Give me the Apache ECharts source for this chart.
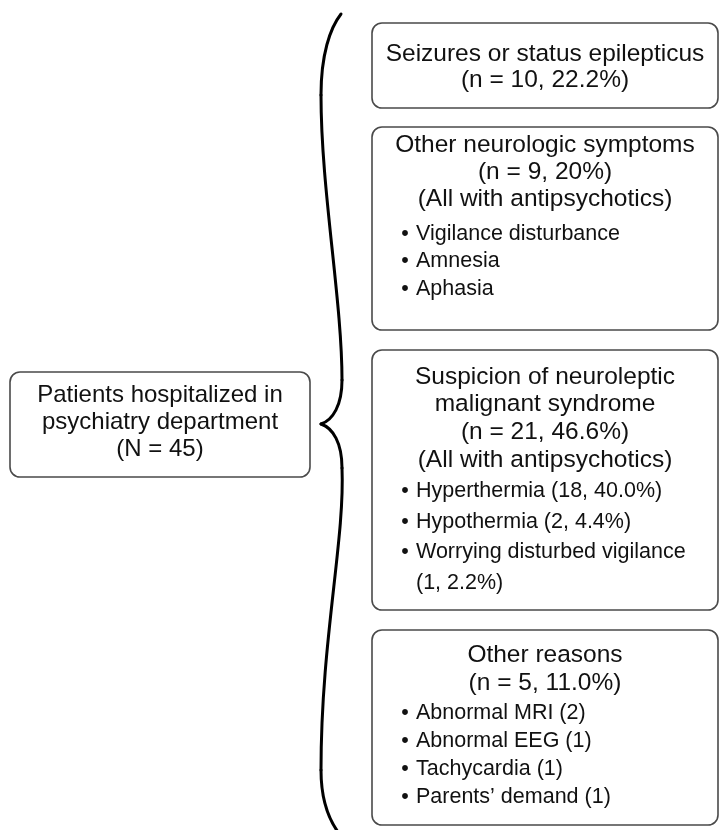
<!DOCTYPE html>
<html>
<head>
<meta charset="utf-8">
<script src="https://cdn.jsdelivr.net/npm/echarts@6/dist/echarts.min.js"></script>
<style>
  html, body { margin: 0; padding: 0; background: #fff; }
  #main { width: 719px; height: 830px; }
</style>
</head>
<body>
<div id="main"></div>
<script>
// text of the diagram
var rootLines = ['Patients hospitalized in', 'psychiatry department', '(N = 45)'];

var groupTitles = [
    ['Seizures or status epilepticus', '(n = 10, 22.2%)'],
    ['Other neurologic symptoms', '(n = 9, 20%)', '(All with antipsychotics)'],
    ['Suspicion of neuroleptic', 'malignant syndrome', '(n = 21, 46.6%)', '(All with antipsychotics)'],
    ['Other reasons', '(n = 5, 11.0%)']
];

// each item may wrap onto a second line
var groupItems = [
    [],
    [['Vigilance disturbance'], ['Amnesia'], ['Aphasia']],
    [['Hyperthermia (18, 40.0%)'], ['Hypothermia (2, 4.4%)'], ['Worrying disturbed vigilance', '(1, 2.2%)']],
    [['Abnormal MRI (2)'], ['Abnormal EEG (1)'], ['Tachycardia (1)'], ['Parents\u2019 demand (1)']]
];

// layout
var FONT = '"Liberation Sans", Arial, Helvetica, sans-serif';
var ROOT_FS = 24, TITLE_FS = 24.5, ITEM_FS = 21.5;
var rootBox = { x: 10, y: 372, w: 300, h: 105, firstY: 395, step: 27 };
var boxX = 372, boxW = 346;
var boxes = [
    { top: 23,  bottom: 108, titleY: 54,  titleStep: 26,   itemY: 0,   itemStep: 0 },
    { top: 127, bottom: 330, titleY: 145, titleStep: 27,   itemY: 234, itemStep: 27.5 },
    { top: 350, bottom: 610, titleY: 377, titleStep: 27.7, itemY: 491, itemStep: 30.7 },
    { top: 630, bottom: 825, titleY: 655, titleStep: 28,   itemY: 713, itemStep: 28 }
];

function txt(s, x, y, align, fs) {
    return {
        type: 'text', x: x, y: y, silent: true,
        style: {
            text: s, fill: '#111', fontSize: fs, fontFamily: FONT,
            align: align, verticalAlign: 'middle'
        }
    };
}
function box(x, y, w, h) {
    return {
        type: 'rect', silent: true,
        shape: { x: x, y: y, width: w, height: h, r: 10 },
        style: { fill: '#fff', stroke: '#4a4a4a', lineWidth: 1.6 }
    };
}
function curve(p) {
    return {
        type: 'bezierCurve', silent: true,
        shape: { x1: p[0], y1: p[1], cpx1: p[2], cpy1: p[3], cpx2: p[4], cpy2: p[5], x2: p[6], y2: p[7] },
        style: { stroke: '#000', lineWidth: 3, fill: null, lineCap: 'round' }
    };
}

var elements = [];

// left box
elements.push(box(rootBox.x, rootBox.y, rootBox.w, rootBox.h));
rootLines.forEach(function (s, i) {
    elements.push(txt(s, rootBox.x + rootBox.w / 2, rootBox.firstY + i * rootBox.step, 'center', ROOT_FS));
});

// brace
[
    [341, 14, 330, 28, 321, 55, 321, 95],
    [321, 95, 321, 190, 342, 300, 342, 380],
    [342, 380, 342, 405, 333, 420, 321, 424],
    [321, 424, 333, 428, 342, 443, 342, 468],
    [342, 468, 345, 540, 321, 640, 321, 770],
    [321, 770, 321, 800, 328, 818, 338, 832]
].forEach(function (p) { elements.push(curve(p)); });

// right boxes
boxes.forEach(function (b, gi) {
    elements.push(box(boxX, b.top, boxW, b.bottom - b.top));
    groupTitles[gi].forEach(function (s, i) {
        elements.push(txt(s, boxX + boxW / 2, b.titleY + i * b.titleStep, 'center', TITLE_FS));
    });
    var row = 0;
    groupItems[gi].forEach(function (lines) {
        lines.forEach(function (s, li) {
            var y = b.itemY + row * b.itemStep;
            if (li === 0) {
                elements.push(txt('\u2022', 405, y, 'center', ITEM_FS));
            }
            elements.push(txt(s, 416, y, 'left', ITEM_FS));
            row++;
        });
    });
});

var chart = echarts.init(document.getElementById('main'), null, { renderer: 'canvas' });
chart.setOption({
    backgroundColor: '#fff',
    animation: false,
    graphic: { elements: elements }
});
</script>
</body>
</html>
